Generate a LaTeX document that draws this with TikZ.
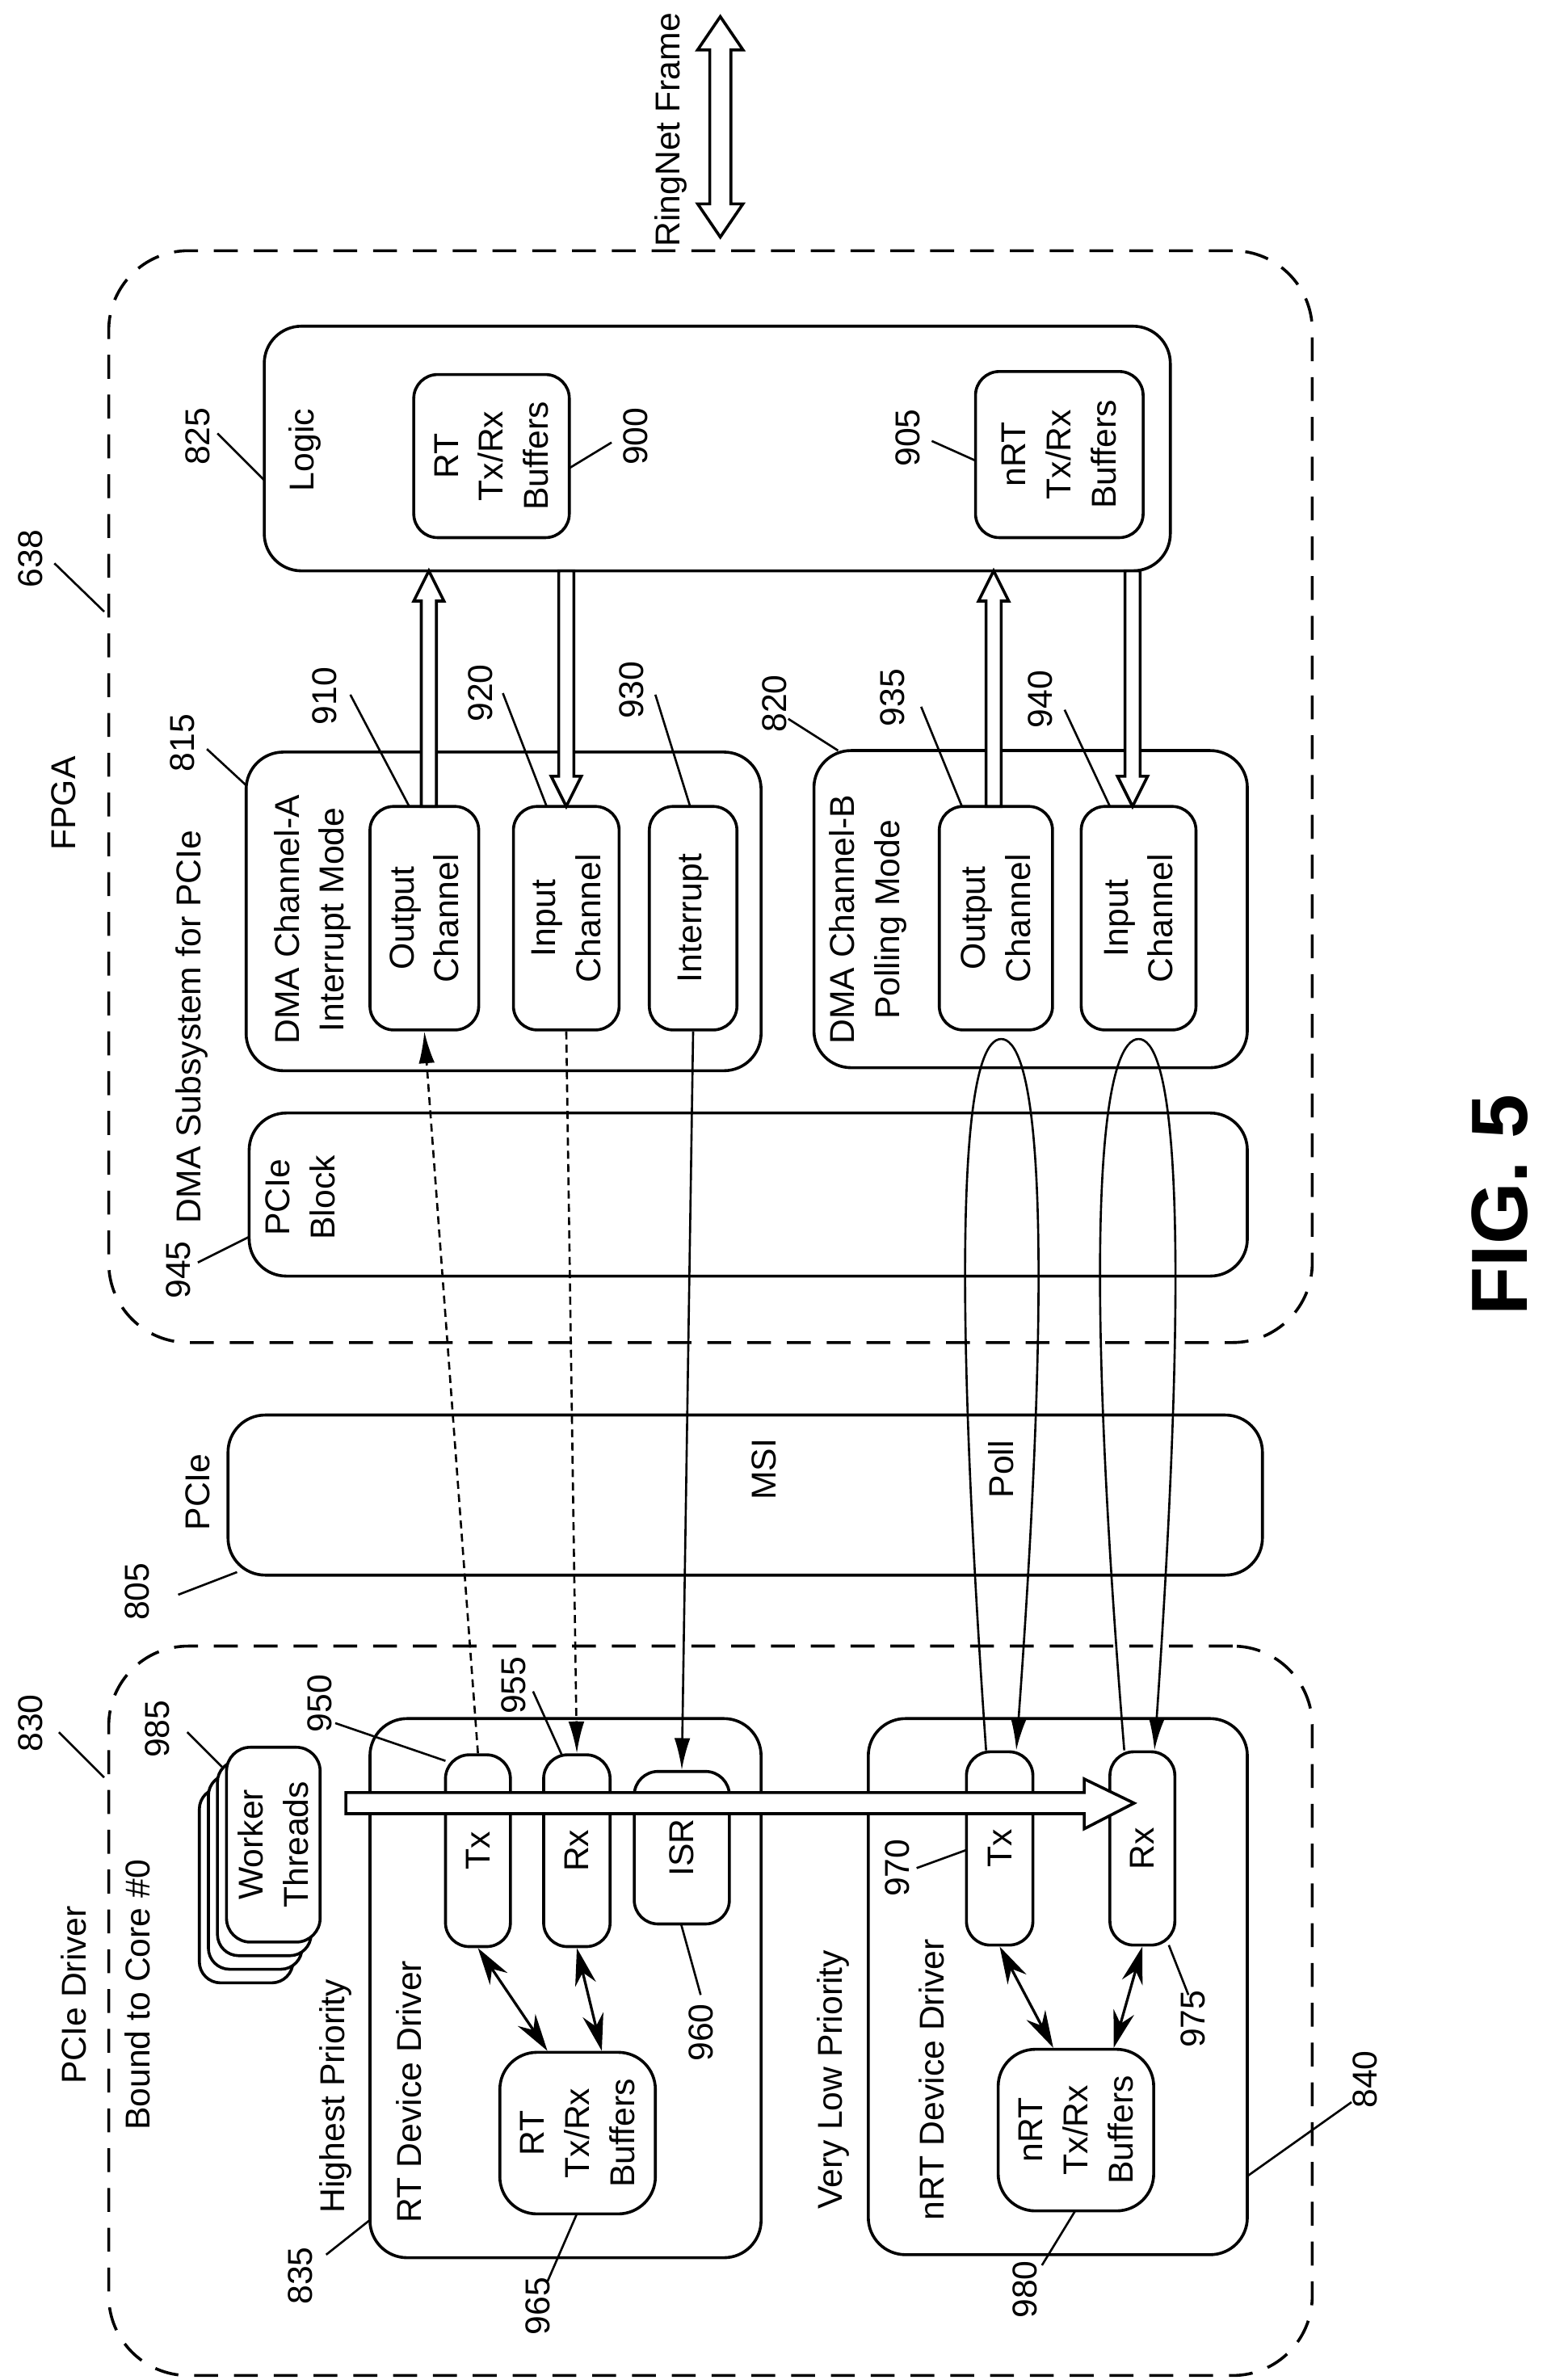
\documentclass[tikz,border=0pt]{standalone}
\usepackage{fontspec}
\setmainfont{Liberation Sans}
\usetikzlibrary{fit,calc,arrows.meta,positioning}

\tikzset{
  box/.style={draw, line width=1.1pt, rounded corners=14pt, inner sep=0pt},
  sbox/.style={draw, line width=1.1pt, rounded corners=9pt, inner sep=0pt},
  grp/.style={draw, line width=1.1pt, dash pattern=on 9pt off 6pt, rounded corners=30pt, inner sep=0pt},
  txt/.style={rotate=90, align=center, font=\fontsize{13}{17}\selectfont, inner sep=0pt},
  num/.style={rotate=90, font=\fontsize{13}{15}\selectfont, inner sep=0pt},
  lead/.style={line width=0.8pt},
  hollow/.style={draw, line width=1.1pt, fill=white},
  bidir/.style={line width=1pt, {Stealth[length=14pt,width=8pt]}-{Stealth[length=14pt,width=8pt]}},
}

% vertical hollow arrows: x, tip y, tail y
\newcommand\hupp[3]{\draw[hollow] (#1,#2) -- (#1+10,#2+20) -- (#1+5,#2+20) -- (#1+5,#3)
  -- (#1-5,#3) -- (#1-5,#2+20) -- (#1-10,#2+20) -- cycle;}
\newcommand\hdown[3]{\draw[hollow] (#1,#2) -- (#1+10,#2-20) -- (#1+5,#2-20) -- (#1+5,#3)
  -- (#1-5,#3) -- (#1-5,#2-20) -- (#1-10,#2-20) -- cycle;}

\begin{document}
\begin{tikzpicture}[x=0.02cm, y=-0.02cm]
  \useasboundingbox (0,0) rectangle (1024,1576);

  % FPGA side
  \node[grp, fit={(72,166) (869,889)}] (fpga) {};
  \node[txt] at (42,532) {FPGA};
  \node[num] at (20,370) {638};
  \draw[lead] (36,373) -- (69,405);

  \draw[hollow] (477,11) -- (492,33) -- (484,33) -- (484,135) -- (492,135) -- (477,157)
    -- (462,135) -- (470,135) -- (470,33) -- (462,33) -- cycle;
  \node[txt] at (444,86) {RingNet Frame};

  \node[box, fit={(175,216) (775,378)}] (logic) {};
  \node[txt] at (202,298) {Logic};
  \node[sbox, fit={(274,248) (377,356)}] (rtbufl) {};
  \node[txt] at (rtbufl) {RT\\Tx/Rx\\Buffers};
  \node[sbox, fit={(646,246) (757,356)}] (nrtbufl) {};
  \node[txt] at (nrtbufl) {nRT\\Tx/Rx\\Buffers};
  \node[num] at (131,289) {825};
  \draw[lead] (144,287) -- (175,318);
  \node[num] at (421,289) {900};
  \draw[lead] (405,293) -- (377,310);
  \node[num] at (601,290) {905};
  \draw[lead] (617,292) -- (646,305);

  \node[txt] at (127,680) {DMA Subsystem for PCIe};

  \node[box, fit={(163,498) (504,709)}] (dmaa) {};
  \node[txt] at (207,609) {DMA Channel-A\\Interrupt Mode};
  \node[sbox, fit={(245,534) (317,682)}] (outa) {};
  \node[txt] at (outa) {Output\\Channel};
  \node[sbox, fit={(340,534) (410,682)}] (ina) {};
  \node[txt] at (ina) {Input\\Channel};
  \node[sbox, fit={(430,534) (488,682)}] (intr) {};
  \node[txt] at (intr) {Interrupt};

  \node[box, fit={(539,497) (826,707)}] (dmab) {};
  \node[txt] at (575,609) {DMA Channel-B\\Polling Mode};
  \node[sbox, fit={(622,534) (697,682)}] (outb) {};
  \node[txt] at (outb) {Output\\Channel};
  \node[sbox, fit={(716,534) (792,682)}] (inb) {};
  \node[txt] at (inb) {Input\\Channel};

  \node[box, fit={(165,737) (826,845)}] (pcieblk) {};
  \node[txt] at (199,793) {PCIe\\Block};

  \hupp{284}{378}{534}
  \hdown{375}{534}{378}
  \hupp{658}{378}{534}
  \hdown{750}{534}{378}

  \node[num] at (121,492) {815};
  \draw[lead] (137,496) -- (163,520);
  \node[num] at (513,466) {820};
  \draw[lead] (522,476) -- (555,497);
  \node[num] at (215,461) {910};
  \draw[lead] (232,460) -- (271,534);
  \node[num] at (318,459) {920};
  \draw[lead] (333,459) -- (362,534);
  \node[num] at (418,457) {930};
  \draw[lead] (434,460) -- (457,534);
  \node[num] at (591,462) {935};
  \draw[lead] (610,468) -- (637,534);
  \node[num] at (689,463) {940};
  \draw[lead] (705,470) -- (735,534);
  \node[num] at (118,841) {945};
  \draw[lead] (131,836) -- (165,819);

  % PCIe link
  \node[box, fit={(151,937) (836,1043)}] (pcie) {};
  \node[txt] at (131,988) {PCIe};
  \node[txt] at (506,973) {MSI};
  \node[txt] at (663,973) {Poll};
  \node[num] at (91,1054) {805};
  \draw[lead] (118,1056) -- (157,1041);

  % host side
  \node[grp, fit={(72,1090) (869,1573)}] (drv) {};
  \node[txt] at (49,1321) {PCIe Driver};
  \node[txt] at (91,1321) {Bound to Core \#0};
  \node[num] at (20,1141) {830};
  \draw[lead] (39,1147) -- (69,1177);

  \foreach \k in {3,2,1}
    \draw[line width=1.1pt, fill=white, rounded corners=8pt]
      (150-6*\k,1157+9*\k) rectangle (212-6*\k,1286+9*\k);
  \node[sbox, fill=white, fit={(150,1157) (212,1286)}] (worker) {};
  \node[txt] at (worker) {Worker\\Threads};
  \node[num] at (104,1145) {985};
  \draw[lead] (124,1147) -- (147,1170);

  \node[box, fit={(245,1138) (504,1495)}] (rtdrv) {};
  \node[txt] at (222,1388) {Highest Priority};
  \node[txt] at (271,1385) {RT Device Driver};
  \node[sbox, fit={(295,1162) (338,1289)}] (rtx) {};
  \node[txt] at (rtx) {Tx};
  \node[sbox, fit={(360,1162) (404,1289)}] (rrx) {};
  \node[txt] at (rrx) {Rx};
  \node[sbox, fit={(420,1173) (483,1274)}] (isr) {};
  \node[txt] at (isr) {ISR};
  \node[box, fit={(331,1359) (434,1466)}] (rtbuf) {};
  \node[txt] at (rtbuf) {RT\\Tx/Rx\\Buffers};

  \node[box, fit={(575,1138) (826,1493)}] (nrtdrv) {};
  \node[txt] at (552,1377) {Very Low Priority};
  \node[txt] at (617,1377) {nRT Device Driver};
  \node[sbox, fit={(640,1160) (684,1288)}] (ntx) {};
  \node[txt] at (ntx) {Tx};
  \node[sbox, fit={(735,1160) (778,1288)}] (nrx) {};
  \node[txt] at (nrx) {Rx};
  \node[box, fit={(661,1357) (764,1464)}] (nrtbuf) {};
  \node[txt] at (nrtbuf) {nRT\\Tx/Rx\\Buffers};

  \draw[bidir] (rtx.south) -- ($(rtbuf.north)+(-20,0)$);
  \draw[bidir] (rrx.south) -- ($(rtbuf.north)+(16,0)$);
  \draw[bidir] (ntx.south) -- ($(nrtbuf.north)+(-15,0)$);
  \draw[bidir] (nrx.south) -- ($(nrtbuf.north)+(25,0)$);

  % links between host and FPGA
  \draw[line width=0.8pt, dash pattern=on 3pt off 2pt, -{Latex[length=12pt,width=6pt]}] (rtx.north) -- (outa.south);
  \draw[line width=0.8pt, dash pattern=on 3pt off 2pt, -{Latex[length=12pt,width=6pt]}] (ina.south) -- (rrx.north);
  \draw[line width=0.8pt, -{Latex[length=12pt,width=6pt]}] (intr.south) -- (isr.north);
  \draw[line width=0.8pt, -{Latex[length=12pt,width=6pt]}] ($(ntx.north)+(-9,0)$)
    .. controls (625,760) and (645,688) .. (663,688)
    .. controls (681,688) and (702,760) .. ($(ntx.north)+(11,0)$);
  \draw[line width=0.8pt, -{Latex[length=12pt,width=6pt]}] ($(nrx.north)+(-12,0)$)
    .. controls (712,760) and (736,688) .. (754,688)
    .. controls (772,688) and (792,760) .. ($(nrx.north)+(8,0)$);

  \draw[hollow] (229,1187) -- (718,1187) -- (718,1178) -- (751,1194) -- (718,1211)
    -- (718,1201) -- (229,1201) -- cycle;

  \node[num] at (212,1128) {950};
  \draw[lead] (222,1141) -- (295,1166);
  \node[num] at (340,1116) {955};
  \draw[lead] (353,1120) -- (372,1162);
  \node[num] at (464,1346) {960};
  \draw[lead] (464,1321) -- (451,1274);
  \node[num] at (356,1527) {965};
  \draw[lead] (362,1512) -- (382,1466);
  \node[num] at (199,1507) {835};
  \draw[lead] (216,1493) -- (245,1470);
  \node[num] at (594,1237) {970};
  \draw[lead] (607,1237) -- (640,1225);
  \node[num] at (790,1337) {975};
  \draw[lead] (787,1321) -- (774,1288);
  \node[num] at (679,1516) {980};
  \draw[lead] (690,1500) -- (712,1464);
  \node[num] at (904,1377) {840};
  \draw[lead] (895,1392) -- (826,1441);

  \node[rotate=90, font=\fontsize{30}{30}\bfseries] at (993,798) {FIG. 5};
\end{tikzpicture}
\end{document}
